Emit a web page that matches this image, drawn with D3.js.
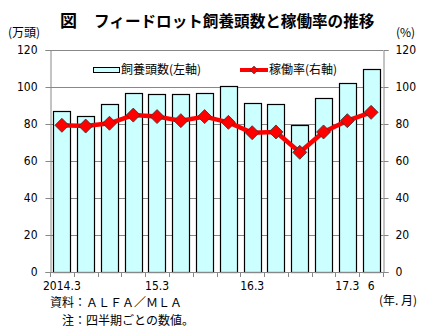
<!DOCTYPE html>
<html><head><meta charset="utf-8">
<script src="https://cdn.jsdelivr.net/npm/d3@7"></script>
<style>body{margin:0;background:#fff;}svg{display:block;font-family:"Noto Sans CJK JP","Noto Sans",sans-serif;}</style>
</head><body><svg id="c" width="428" height="334"></svg>
<script>
const categories = ["2014.3","2014.6","2014.9","2014.12","2015.3","2015.6","2015.9","2015.12","2016.3","2016.6","2016.9","2016.12","2017.3","2017.6"];
const tickLabels = {"2014.3":"2014.3","2015.3":"15.3","2016.3":"16.3","2017.3":"17.3","2017.6":"6"};
const headCount = [87, 84.5, 91, 96.5, 96, 96, 96.5, 100.5, 91.5, 91, 79.5, 94, 102, 109.5];
const utilization = [79.3, 78.9, 80.4, 84.8, 84, 81.8, 84, 80.9, 75.3, 75.7, 64.7, 75.7, 81.8, 86.3];
const yTicks = [0,20,40,60,80,100,120];

const svg = d3.select("#c");
const L=50, R=383, T=50, B=272;
const x = d3.scaleBand().domain(categories).range([L,R]).paddingInner(0.28).paddingOuter(0.14);
const yL = d3.scaleLinear().domain([0,120]).range([B,T]);
const yR = d3.scaleLinear().domain([0,120]).range([B,T]);
const grey="#888";
const numFont="'DejaVu Sans Condensed','Liberation Sans',sans-serif";

// gridlines
svg.append("g").selectAll("line").data(yTicks.filter(d=>d>0)).join("line")
  .attr("x1",L).attr("x2",R).attr("y1",d=>yL(d)+0.5).attr("y2",d=>yL(d)+0.5)
  .attr("stroke",grey).attr("stroke-width",1);

// bars
svg.append("g").selectAll("rect").data(headCount).join("rect")
  .attr("x",(d,i)=>Math.round(x(categories[i]))+0.5)
  .attr("y",d=>Math.round(yL(d))+0.5)
  .attr("width",Math.round(x.bandwidth()))
  .attr("height",d=>B-Math.round(yL(d)))
  .attr("fill","#ccffff").attr("stroke","#000").attr("stroke-width",1.2);

// axes
const axL = svg.append("g").attr("transform",`translate(${L+0.5},0)`)
  .call(d3.axisLeft(yL).tickValues(yTicks).tickSize(5).tickPadding(8));
const axR = svg.append("g").attr("transform",`translate(${R+0.5},0)`)
  .call(d3.axisRight(yR).tickValues(yTicks).tickSize(5).tickPadding(7));
[axL,axR].forEach(a=>{a.select(".domain").attr("stroke",grey);a.selectAll(".tick line").attr("stroke",grey);
  a.selectAll("text").attr("font-size",12).attr("fill","#000").attr("font-family",numFont);});

// x axis line and ticks at band boundaries
const step = x.step();
const bounds = categories.map(c=>x(c)-x.paddingInner()*step/2).concat([R]);
svg.append("line").attr("x1",L).attr("x2",R).attr("y1",B+0.5).attr("y2",B+0.5).attr("stroke",grey);
svg.append("g").selectAll("line").data(bounds).join("line")
  .attr("x1",d=>Math.round(Math.max(L,d))+0.5).attr("x2",d=>Math.round(Math.max(L,d))+0.5)
  .attr("y1",B).attr("y2",B+5).attr("stroke",grey);
svg.append("g").selectAll("text").data(categories.filter(c=>tickLabels[c])).join("text")
  .attr("x",c=>x(c)+x.bandwidth()/2).attr("y",B+18)
  .attr("text-anchor","middle").attr("font-size",12)
  .attr("font-family",numFont)
  .text(c=>tickLabels[c]);

// line
const line = d3.line().x((d,i)=>x(categories[i])+x.bandwidth()/2).y(d=>yR(d));
svg.append("path").datum(utilization).attr("d",line).attr("fill","none")
  .attr("stroke","#ff0000").attr("stroke-width",4.5).attr("stroke-linejoin","round");
svg.append("g").selectAll("path").data(utilization).join("path")
  .attr("transform",(d,i)=>`translate(${x(categories[i])+x.bandwidth()/2},${yR(d)})`)
  .attr("d","M0,-7L7,0L0,7L-7,0Z").attr("fill","#ff0000").attr("stroke","#333").attr("stroke-width",0.8);

// legend
svg.append("rect").attr("x",93.5).attr("y",67.5).attr("width",26).attr("height",5)
  .attr("fill","#ccffff").attr("stroke","#000");
svg.append("text").attr("x",121).attr("y",74).attr("font-size",12).text("飼養頭数(左軸)");
svg.append("line").attr("x1",240).attr("x2",268).attr("y1",70).attr("y2",70).attr("stroke","#ff0000").attr("stroke-width",4);
svg.append("path").attr("transform","translate(254,70)").attr("d","M0,-4L4,0L0,4L-4,0Z").attr("fill","#ff0000").attr("stroke","#333").attr("stroke-width",0.6);
svg.append("text").attr("x",269).attr("y",74).attr("font-size",12).text("稼働率(右軸)");

// titles and notes
svg.append("text").attr("x",60).attr("y",27).attr("font-size",17).attr("font-weight","bold").text("図");
svg.append("text").attr("x",94).attr("y",27).attr("font-size",15.6).attr("font-weight","bold").text("フィードロット飼養頭数と稼働率の推移");
svg.append("text").attr("x",8).attr("y",37).attr("font-size",12).text("(万頭)");
svg.append("text").attr("x",396).attr("y",37).attr("font-size",12).text("(%)");
svg.append("text").attr("x",379).attr("y",305).attr("font-size",12).text("(年. 月)");
svg.append("text").attr("x",50).attr("y",307).attr("font-size",12).text("資料：ＡＬＦＡ／ＭＬＡ");
svg.append("text").attr("x",62).attr("y",325).attr("font-size",12).text("注：四半期ごとの数値。");
</script></body></html>
